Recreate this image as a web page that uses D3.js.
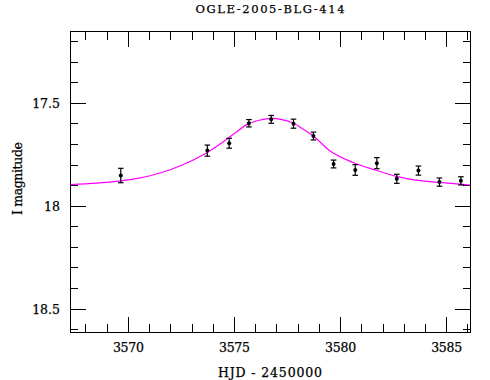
<!DOCTYPE html>
<html>
<head>
<meta charset="utf-8">
<script src="https://cdn.jsdelivr.net/npm/d3@7"></script>
<style>
  body { margin: 0; background: #fff; }
  text { font-family: "DejaVu Serif", "Liberation Serif", serif; fill: #000; stroke: #000; stroke-width: 0.25; }
</style>
</head>
<body>
<svg class="lc" width="490" height="380"></svg>
<script>
// photometry points (HJD - 2450000, I mag, error)
var hjd = [3569.64, 3573.72, 3574.75, 3575.68, 3576.73, 3577.78, 3578.72,
           3579.67, 3580.69, 3581.71, 3582.65, 3583.67, 3584.66, 3585.67];
var mag = [17.851, 17.730, 17.694, 17.597, 17.578, 17.599, 17.659,
           17.795, 17.824, 17.791, 17.867, 17.827, 17.883, 17.877];
var err = [0.035, 0.027, 0.024, 0.018, 0.019, 0.022, 0.019,
           0.019, 0.026, 0.027, 0.022, 0.022, 0.020, 0.020];

// model curve
var modelHjd = [3567.27, 3568.5, 3569.61, 3570.5, 3571.02, 3572.0, 3572.91,
                3573.66, 3574.32, 3575.03, 3575.64, 3576.21, 3576.73, 3577.24,
                3577.76, 3578.23, 3578.71, 3579.51, 3580.59, 3581.63, 3582.67,
                3583.76, 3584.94, 3586.1];
var modelMag = [17.895, 17.888, 17.877, 17.864, 17.852, 17.822, 17.783,
                17.743, 17.698, 17.644, 17.600, 17.581, 17.573, 17.579,
                17.596, 17.625, 17.659, 17.732, 17.788, 17.824, 17.856,
                17.876, 17.887, 17.897];

var xTicks = [3570, 3575, 3580, 3585];
var yTicks = [17.5, 18, 18.5];

var M = { top: 31.7, left: 70.5, right: 470, bottom: 332.3 };

var svg = d3.select(".lc");

var x = d3.scaleLinear().domain([3567.27, 3586.1]).range([M.left, M.right]);
var y = d3.scaleLinear().domain([17.152, 18.613]).range([M.top, M.bottom]);

var minorX = d3.range(3568, 3587, 1);
var minorY = d3.range(17.2, 18.61, 0.1).map(function(v) { return +v.toFixed(1); });

function isMajorX(v) { return v % 5 == 0; }
function isMajorY(v) { return Math.abs(v * 2 - Math.round(v * 2)) < 1e-6; }

var frame = svg.append("g").attr("shape-rendering", "crispEdges")
    .attr("stroke", "#000").attr("stroke-width", 1);

frame.append("rect")
    .attr("x", M.left).attr("y", M.top)
    .attr("width", M.right - M.left).attr("height", M.bottom - M.top)
    .attr("fill", "none");

// bottom + top ticks
minorX.forEach(function(v) {
    var len = isMajorX(v) ? 15 : 8;
    frame.append("line").attr("x1", x(v)).attr("x2", x(v))
        .attr("y1", M.bottom).attr("y2", M.bottom - len);
    frame.append("line").attr("x1", x(v)).attr("x2", x(v))
        .attr("y1", M.top).attr("y2", M.top + len);
});

// left + right ticks
minorY.forEach(function(v) {
    var len = isMajorY(v) ? 15 : 7;
    frame.append("line").attr("y1", y(v)).attr("y2", y(v))
        .attr("x1", M.left).attr("x2", M.left + len);
    frame.append("line").attr("y1", y(v)).attr("y2", y(v))
        .attr("x1", M.right).attr("x2", M.right - len);
});

svg.selectAll(".xlab").data(xTicks).enter().append("text")
    .attr("class", "xlab")
    .attr("x", function(d) { return x(d); })
    .attr("y", 352)
    .attr("text-anchor", "middle")
    .attr("textLength", 31)
    .style("font-size", "12.5px")
    .text(function(d) { return d; });

svg.selectAll(".ylab").data(yTicks).enter().append("text")
    .attr("class", "ylab")
    .attr("x", 60)
    .attr("y", function(d) { return y(d) + 4.5; })
    .attr("text-anchor", "end")
    .style("font-size", "12.5px")
    .text(function(d) { return d; });

svg.append("text")
    .attr("x", 270).attr("y", 13.3)
    .attr("text-anchor", "middle")
    .attr("textLength", 149)
    .style("font-size", "11.5px")
    .text("OGLE-2005-BLG-414");

svg.append("text")
    .attr("x", 270).attr("y", 377)
    .attr("text-anchor", "middle")
    .attr("textLength", 104)
    .style("font-size", "12.5px")
    .text("HJD - 2450000");

svg.append("text")
    .attr("transform", "translate(21.5,178.5) rotate(-90)")
    .attr("text-anchor", "middle")
    .attr("textLength", 73)
    .style("font-size", "12.5px")
    .text("I magnitude");

// model curve
svg.append("clipPath").attr("id", "clip").append("rect")
    .attr("x", M.left).attr("y", M.top)
    .attr("width", M.right - M.left).attr("height", M.bottom - M.top);

var line = d3.line()
    .curve(d3.curveMonotoneX)
    .x(function(d) { return x(d[0]); })
    .y(function(d) { return y(d[1]); });

svg.append("path")
    .attr("clip-path", "url(#clip)")
    .attr("d", line(d3.zip(modelHjd, modelMag)))
    .attr("fill", "none")
    .attr("stroke", "#ff00ff")
    .attr("stroke-width", 1.2);

// points with error bars
var pts = svg.selectAll(".pt").data(d3.range(hjd.length)).enter()
    .append("g").attr("class", "pt")
    .attr("stroke", "#000").attr("stroke-width", 1.2);

pts.append("line")
    .attr("x1", function(i) { return x(hjd[i]); })
    .attr("x2", function(i) { return x(hjd[i]); })
    .attr("y1", function(i) { return y(mag[i] - err[i]); })
    .attr("y2", function(i) { return y(mag[i] + err[i]); });
pts.append("line")
    .attr("x1", function(i) { return x(hjd[i]) - 2.8; })
    .attr("x2", function(i) { return x(hjd[i]) + 2.8; })
    .attr("y1", function(i) { return y(mag[i] - err[i]); })
    .attr("y2", function(i) { return y(mag[i] - err[i]); });
pts.append("line")
    .attr("x1", function(i) { return x(hjd[i]) - 2.8; })
    .attr("x2", function(i) { return x(hjd[i]) + 2.8; })
    .attr("y1", function(i) { return y(mag[i] + err[i]); })
    .attr("y2", function(i) { return y(mag[i] + err[i]); });
pts.append("circle")
    .attr("cx", function(i) { return x(hjd[i]); })
    .attr("cy", function(i) { return y(mag[i]); })
    .attr("r", 2)
    .attr("fill", "#000").attr("stroke", "none");
</script>
</body>
</html>
